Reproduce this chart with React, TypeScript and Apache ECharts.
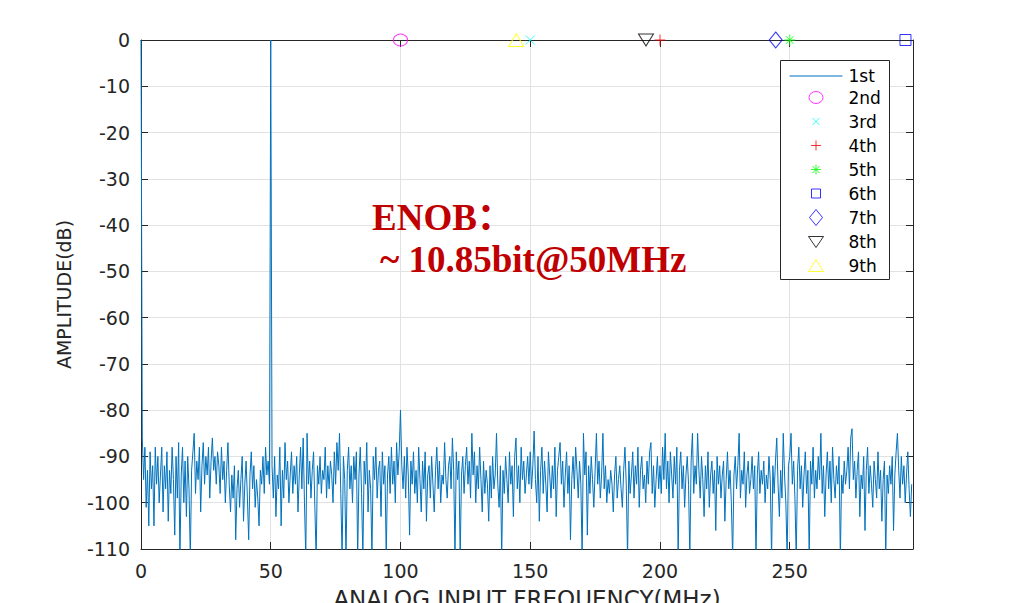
import React, { useEffect, useRef } from "react";
import * as echarts from "echarts";

// ---- data ----
const STEP_MHZ = 0.5;
const X_MAX = 297.5;

const seg0 = [0, -86, -95, -88, -101, -93, -105, -89, -97, -92, -105, -88, -96, -90, -100, -94, -88, -102, -92, -97,
  -89, -104, -93, -98, -88, -95, -107, -90, -99, -87, -112, -94, -88, -100, -91, -103, -90, -97, -112, -93,
  -89, -85, -98, -91, -95, -88, -102, -92, -87, -96, -90, -94, -88, -99, -91, -86, -93, -90, -96, -89,
  -92, -98, -88, -95, -91, -100, -93, -87, -96, -102, -94, -99, -92, -108, -97, -93, -101, -95, -90, -104,
  -96, -91, -99, -108, -94, -89, -97, -92, -101, -95, -99, -105, -93, -96, -90, -98, -88, -94, -91, -96];
const seg1 = [0, -92, -99, -90, -103, -94, -97, -88, -105, -93, -99, -87, -95, -91, -100, -94, -89, -98, -92, -96,
  -90, -102, -94, -88, -97, -86, -100, -112, -85, -96, -91, -99, -93, -89, -101, -112, -92, -96, -90, -98,
  -93, -95, -88, -99, -92, -97, -91, -94, -100, -89, -96, -87, -93, -85, -98, -112, -90, -95, -112, -93,
  -88, -97, -92, -100, -90, -95, -89, -112, -94, -88, -98, -112, -91, -96, -87, -102, -93, -97, -112, -90,
  -95, -88, -99, -93, -91, -103, -89, -96, -92, -112, -94, -90, -98, -88, -96, -91, -100, -87, -94, -89];
const seg2 = [-80, -92, -97, -90, -99, -88, -94, -107, -91, -96, -89, -98, -93, -100, -88, -95, -102, -91, -97, -89,
  -104, -94, -92, -99, -90, -96, -102, -93, -88, -97, -91, -100, -94, -96, -87, -95, -99, -92, -90, -97,
  -86, -93, -112, -89, -95, -91, -112, -94, -90, -98, -92, -88, -96, -91, -99, -85, -94, -89, -100, -92,
  -97, -88, -95, -102, -91, -98, -93, -96, -104, -92, -99, -90, -97, -94, -85, -96, -101, -92, -112, -93,
  -98, -90, -95, -100, -89, -96, -92, -103, -90, -86, -97, -92, -100, -88, -95, -91, -98, -94, -90, -96];
const seg3 = [-89, -97, -92, -84.5, -95, -100, -90, -104, -93, -88, -98, -91, -96, -102, -89, -94, -99, -92, -97, -88,
  -103, -93, -90, -87, -96, -91, -101, -94, -89, -98, -92, -108, -95, -90, -97, -88, -93, -99, -91, -96,
  -112, -85, -94, -89, -107, -92, -98, -90, -95, -101, -93, -85, -96, -91, -99, -94, -85, -97, -92, -100,
  -95, -98, -93, -96, -102, -94, -90, -99, -95, -92, -97, -101, -93, -88, -96, -112, -91, -98, -94, -89,
  -99, -92, -96, -88, -101, -93, -90, -97, -94, -100, -91, -96, -89, -87, -98, -92, -101, -95, -90, -97];
const seg4 = [-92, -98, -88, -95, -85, -97, -91, -100, -89, -94, -99, -90, -96, -88, -112, -93, -89, -97, -92, -101,
  -94, -90, -96, -112, -91, -85, -98, -92, -96, -85, -93, -99, -90, -95, -103, -92, -97, -89, -101, -94,
  -91, -98, -93, -106, -90, -96, -92, -99, -94, -91, -104, -95, -89, -97, -93, -100, -112, -94, -90, -97,
  -92, -85, -99, -93, -96, -89, -101, -94, -91, -98, -95, -90, -97, -92, -112, -94, -89, -98, -93, -96,
  -91, -100, -94, -97, -90, -95, -112, -92, -98, -91, -86, -96, -103, -93, -99, -85, -94, -100, -112, -92];
const seg5 = [-90, -85, -96, -91, -99, -112, -93, -88, -97, -92, -101, -94, -89, -98, -93, -112, -91, -96, -88, -99,
  -93, -97, -90, -95, -85, -98, -92, -103, -94, -89, -97, -91, -100, -88, -95, -99, -92, -96, -90, -112,
  -94, -98, -91, -96, -93, -88, -97, -86, -84, -95, -91, -99, -93, -89, -103, -94, -97, -90, -106, -93,
  -88, -98, -92, -96, -101, -91, -95, -99, -89, -97, -93, -104, -95, -91, -112, -94, -98, -92, -96, -90,
  -106, -94, -89, -85, -93, -99, -90, -96, -92, -100, -94, -89, -97, -103, -96];

const amplitudes = [...seg0, ...seg1, ...seg2, ...seg3, ...seg4, ...seg5];

const harmonicNames = ["2nd", "3rd", "4th", "5th", "6th", "7th", "8th", "9th"];
const harmonicFreqs = [100, 150, 200, 250, 294.6, 244.6, 194.6, 144.6];
const harmonicAmps = [0, 0, 0, 0, 0, 0, 0, 0];

const xTicks = [0, 50, 100, 150, 200, 250];

// ---- styles ----
const BOX = "M0,0M53,18"; // legend icon frame (53 x 18), centre at 26.5, 9
const harmonicStyles = [
  { symbol: "circle", size: [14, 12], color: "#FF00FF",
    icon: `path://${BOX}M33.5,9A7,6,0,1,1,19.5,9A7,6,0,1,1,33.5,9Z` },
  { symbol: "path://M0,0L10,10M10,0L0,10", size: 9, color: "#00FFFF",
    icon: `path://${BOX}M23,5.5L30,12.5M30,5.5L23,12.5` },
  { symbol: "path://M5,0L5,10M0,5L10,5", size: 11, color: "#FF0000",
    icon: `path://${BOX}M26.5,4L26.5,14M21.5,9L31.5,9` },
  { symbol: "path://M5,0L5,10M0,5L10,5M1.5,1.5L8.5,8.5M8.5,1.5L1.5,8.5", size: 11, color: "#00FF00",
    icon: `path://${BOX}M26.5,4L26.5,14M21.5,9L31.5,9M23,5.5L30,12.5M30,5.5L23,12.5` },
  { symbol: "rect", size: 11, color: "#0000FF",
    icon: `path://${BOX}M22,4.5L31,4.5L31,13.5L22,13.5Z` },
  { symbol: "diamond", size: [13, 16], color: "#0000FF",
    icon: `path://${BOX}M26.5,1L33,9L26.5,17L20,9Z` },
  { symbol: "path://M0,0L10,0L5,8.5Z", size: [15, 12], color: "#000000",
    icon: `path://${BOX}M19,4L34,4L26.5,15Z` },
  { symbol: "triangle", size: [15, 13], color: "#FFFF00",
    icon: `path://${BOX}M19,15L34,15L26.5,3Z` },
];

const LINE_COLOR = "#0072BD";
const AXIS_COLOR = "#262626";
const FONT = '"DejaVu Sans", "Liberation Sans", Arial, sans-serif';
const RED_FONT_FAMILY = '"Liberation Serif", "Times New Roman", "Noto Sans CJK SC", serif';

export default function App() {
  const ref = useRef<HTMLDivElement>(null);
  useEffect(() => {
    if (!ref.current) return;
    const chart = echarts.init(ref.current, null, { renderer: "svg" });
    const spectrum = amplitudes.map((a, i) => [i * STEP_MHZ, a]);

    const commonAxisLine = { show: true, onZero: false, lineStyle: { color: AXIS_COLOR, width: 1 } };
    const commonTick = { show: true, inside: true, length: 7, lineStyle: { color: AXIS_COLOR, width: 1 } };
    const splitLine = { show: true, lineStyle: { color: "#e2e2e2", width: 1 } };

    const legendData = [
      {
        name: "1st",
        icon: `path://${BOX}M0,8.5L53,8.5L53,9.5L0,9.5Z`,
        itemStyle: { color: LINE_COLOR, borderWidth: 0 },
      },
      ...harmonicNames.map((name, k) => ({
        name,
        icon: harmonicStyles[k].icon,
        itemStyle: { color: "none", borderColor: harmonicStyles[k].color, borderWidth: 1 },
      })),
    ];

    const option: any = {
      animation: false,
      backgroundColor: "#ffffff",
      grid: { left: 141, top: 40, width: 772, height: 509, outerBoundsMode: "none", containLabel: false },
      xAxis: [
        {
          type: "value",
          position: "bottom",
          min: 0,
          max: X_MAX,
          interval: 50,
          axisLine: commonAxisLine,
          axisTick: commonTick,
          splitLine,
          axisLabel: {
            color: AXIS_COLOR,
            fontSize: 19,
            fontFamily: FONT,
            margin: 12,
            showMaxLabel: false,
            formatter: (v: number) => (xTicks.includes(v) ? String(v) : ""),
          },
          name: "ANALOG INPUT FREQUENCY(MHz)",
          nameLocation: "middle",
          nameGap: 38,
          nameTextStyle: { color: AXIS_COLOR, fontSize: 23, fontFamily: FONT },
        },
        {
          type: "value",
          position: "top",
          min: 0,
          max: X_MAX,
          interval: 50,
          axisLine: commonAxisLine,
          axisTick: commonTick,
          axisLabel: { show: false },
          splitLine: { show: false },
        },
      ],
      yAxis: [
        {
          type: "value",
          position: "left",
          min: -110,
          max: 0,
          interval: 10,
          axisLine: commonAxisLine,
          axisTick: commonTick,
          splitLine,
          axisLabel: { color: AXIS_COLOR, fontSize: 19, fontFamily: FONT, margin: 11 },
          name: "AMPLITUDE(dB)",
          nameLocation: "middle",
          nameGap: 68,
          nameRotate: 90,
          nameTextStyle: { color: AXIS_COLOR, fontSize: 19, fontFamily: FONT },
        },
        {
          type: "value",
          position: "right",
          min: -110,
          max: 0,
          interval: 10,
          axisLine: commonAxisLine,
          axisTick: commonTick,
          axisLabel: { show: false },
          splitLine: { show: false },
        },
      ],
      legend: {
        orient: "vertical",
        left: 787,
        top: 67,
        padding: 0,
        itemWidth: 53,
        itemHeight: 18,
        itemGap: 1,
        selectedMode: false,
        symbolKeepAspect: true,
        z: 10,
        textStyle: { fontSize: 17, fontFamily: FONT, color: "#000000", lineHeight: 18, padding: [0, 0, 0, 1] },
        data: legendData,
      },
      graphic: [
        {
          type: "rect",
          z: 3,
          shape: { x: 780.5, y: 60.5, width: 109, height: 219 },
          style: { fill: "#ffffff", stroke: AXIS_COLOR, lineWidth: 1 },
        },
        {
          type: "text",
          z: 10,
          left: 372,
          top: 199,
          style: { text: "ENOB：", font: `bold 37px ${RED_FONT_FAMILY}`, fill: "#C00000" },
        },
        {
          type: "text",
          z: 10,
          left: 380,
          top: 241,
          style: { text: "~ 10.85bit@50MHz", font: `bold 37px ${RED_FONT_FAMILY}`, fill: "#C00000" },
        },
      ],
      series: [
        {
          type: "line",
          name: "1st",
          data: spectrum,
          symbol: "none",
          clip: true,
          lineStyle: { color: LINE_COLOR, width: 1 },
          itemStyle: { color: LINE_COLOR },
          z: 2,
        },
        ...harmonicNames.map((name, k) => ({
          type: "scatter",
          name,
          data: [[harmonicFreqs[k], harmonicAmps[k]]],
          symbol: harmonicStyles[k].symbol,
          symbolSize: harmonicStyles[k].size,
          clip: false,
          z: 6,
          itemStyle: { color: "none", borderColor: harmonicStyles[k].color, borderWidth: 1 },
        })),
      ],
    };
    chart.setOption(option);
    return () => chart.dispose();
  }, []);
  return (
    <div
      ref={ref}
      style={{ position: "fixed", left: 0, top: 0, width: 1017, height: 603, background: "#fff" }}
    />
  );
}
